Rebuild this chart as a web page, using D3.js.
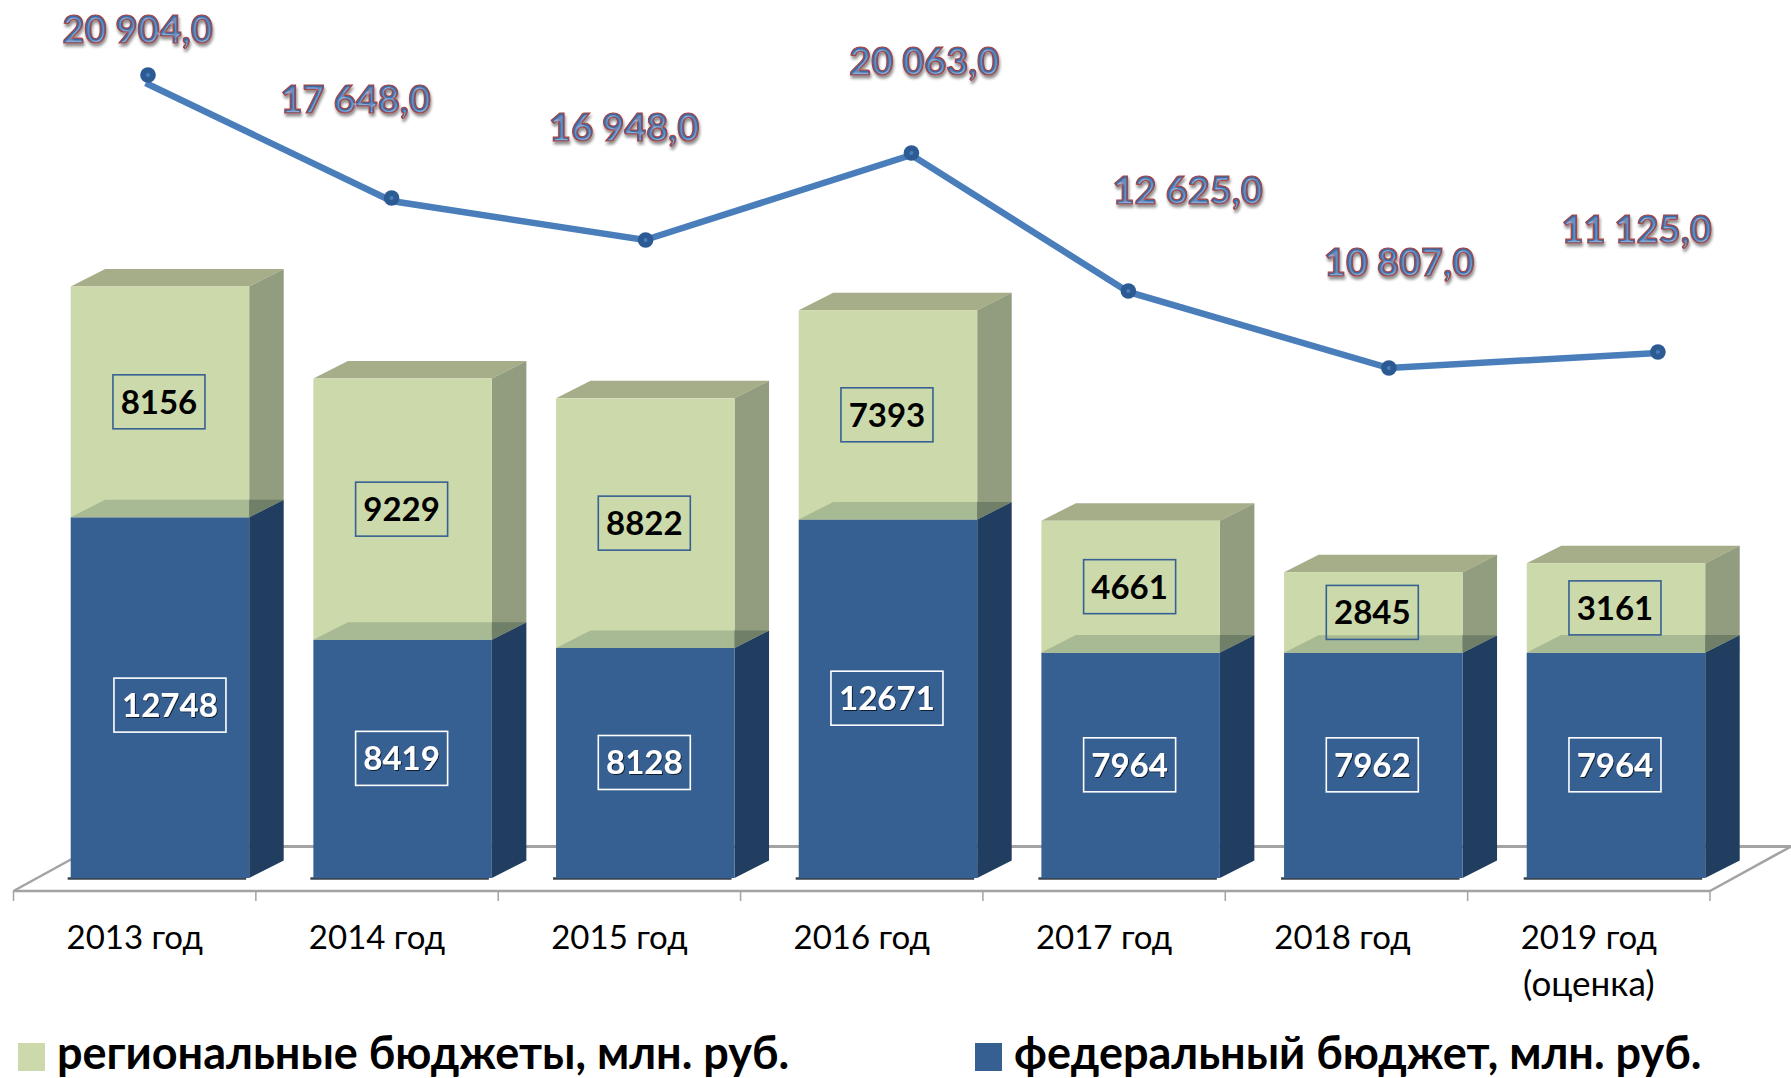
<!DOCTYPE html>
<html><head><meta charset="utf-8">
<script src="https://cdn.jsdelivr.net/npm/d3@7"></script>
<style>html,body{margin:0;background:#fff;overflow:hidden}svg{display:block}text{font-family:Lato,"Open Sans",sans-serif}</style>
</head><body><svg id="c" width="1791" height="1078"></svg>
<script>
const categories=["2013 год","2014 год","2015 год","2016 год","2017 год","2018 год","2019 год"];
const federal=[12748,8419,8128,12671,7964,7962,7964];
const regional=[8156,9229,8822,7393,4661,2845,3161];
const totalLabels=["20 904,0","17 648,0","16 948,0","20 063,0","12 625,0","10 807,0","11 125,0"];
const lineLevels=[28092,23922,22544,25548,20707,18021,18551];
const markerLevels=[28375,24028,22544,25618,20742,18021,18587];
const lineSlots=[0.045,1.06,2.105,3.205,4.1,5.175,6.285];
const markerSlots=[0.055,1.06,2.108,3.205,4.1,5.175,6.285];
const labelSlots=[0.012,0.912,2.02,3.258,4.345,5.217,6.197];
const labelLevels=[29505,27032,26042,28375,23816,21272,22438];
const seriesNames=["региональные бюджеты, млн. руб.","федеральный бюджет, млн. руб."];

const svg=d3.select("#c");
const defs=svg.append("defs");
const f=defs.append("filter").attr("id","bevel").attr("x","-10%").attr("y","-20%").attr("width","120%").attr("height","150%");
f.append("feGaussianBlur").attr("in","SourceAlpha").attr("stdDeviation",1.6).attr("result","sb");
f.append("feOffset").attr("in","sb").attr("dx",1).attr("dy",3).attr("result","so");
f.append("feComponentTransfer").attr("in","so").attr("result","sh").append("feFuncA").attr("type","linear").attr("slope",.45);
f.append("feGaussianBlur").attr("in","SourceAlpha").attr("stdDeviation",.9).attr("result","b");
const sp=f.append("feSpecularLighting").attr("in","b").attr("surfaceScale",2.5).attr("specularConstant",.55).attr("specularExponent",16).attr("lighting-color","#bcdcff").attr("result","s");
sp.append("feDistantLight").attr("azimuth",70).attr("elevation",50);
f.append("feComposite").attr("in","s").attr("in2","SourceGraphic").attr("operator","in").attr("result","s2");
const mg=f.append("feMerge");
mg.append("feMergeNode").attr("in","sh");
mg.append("feMergeNode").attr("in","SourceGraphic");
mg.append("feMergeNode").attr("in","s2");
const f2=defs.append("filter").attr("id","sh2").attr("x","-20%").attr("y","-20%").attr("width","140%").attr("height","140%");
f2.append("feDropShadow").attr("dx",1).attr("dy",1).attr("stdDeviation",.7).attr("flood-color","#000").attr("flood-opacity",.7);

const floorL=13.5,floorR=1710,floorY=891,backY=846.5,dxD=81;
const band=d3.scaleBand().domain(categories).range([floorL,floorR]).padding(0);
const barBand=d3.scaleBand().domain(categories).range([70.7,70.7+7*242.67]).padding(0);
const y=d3.scaleLinear().domain([0,10000]).range([878,595]);
const slot=d3.scaleLinear().domain([0,6]).range([band(categories[0])+band.bandwidth()/2,band(categories[6])+band.bandwidth()/2]);
const barW=178.5,dx=34.5,dy=17.5;

// floor
const grey="#a3a3a3";
const g=svg.append("g").attr("fill","none").attr("stroke",grey);
g.append("path").attr("stroke-width",3).attr("d",`M${floorL+dxD},${backY}H1791`);
g.append("path").attr("stroke-width",2.5).attr("d",`M${floorL},${floorY}L${floorL+dxD},${backY}`);
g.append("path").attr("stroke-width",2.5).attr("d",`M${floorR},${floorY}L1791,${backY}`);
g.append("path").attr("stroke-width",2.5).attr("d",`M${floorL},${floorY}H${floorR}`);
const ticks=band.domain().map(c=>band(c)).concat(floorR);
g.selectAll("line").data(ticks).join("line").attr("x1",d=>d).attr("x2",d=>d).attr("y1",floorY).attr("y2",901).attr("stroke-width",1.5);

function box(p,x,y0,y1,cols){
  p.append("path").attr("fill",cols.top).attr("d",`M${x},${y1}l${dx},${-dy}h${barW}l${-dx},${dy}z`);
  p.append("path").attr("fill",cols.side).attr("d",`M${x+barW},${y0}l${dx},${-dy}V${y1-dy}l${-dx},${dy}z`);
  p.append("rect").attr("x",x).attr("y",y1).attr("width",barW).attr("height",y0-y1).attr("fill",cols.front);
}
const blue={front:"#376092",side:"#213e60",top:"#2c4f7a"};
const green={front:"#ccdaab",side:"#929c7e",top:"#a5ad89"};

const bars=svg.append("g").selectAll("g").data(categories).join("g");
bars.each(function(c,i){
  const p=d3.select(this),x=barBand(c);
  const yb=y(0),ym=y(federal[i]),yt=y(federal[i]+regional[i]);
  p.append("path").attr("stroke","#3a4652").attr("stroke-width",2.5).attr("fill","none").attr("d",`M${x-3},${yb+.5}H${x+barW-3}`);
  box(p,x,yb,ym,blue);
  box(p,x,ym,yt,green);
  // the seam seen through the green block
  p.append("path").attr("fill","#a7ba94").attr("d",`M${x},${ym}L${x+dx},${ym-dy}H${x+barW}V${ym}z`);
  p.append("path").attr("fill","#6f7f68").attr("d",`M${x+barW},${ym}L${x+barW+dx},${ym-dy}H${x+barW}z`);
});

// value labels
const drawLabel=(p,cx,cy,txt,stroke,fill,shadow)=>{
  const bw=txt.length>4?112:92;
  p.append("rect").attr("x",cx-bw/2).attr("y",cy-27).attr("width",bw).attr("height",54).attr("fill","none").attr("stroke",stroke).attr("stroke-width",1.6);
  const t=p.append("text").attr("x",cx).attr("y",cy+12).attr("text-anchor","middle").attr("font-size",33).attr("font-weight",700).attr("fill",fill).text(txt);
  if(shadow)t.attr("filter","url(#sh2)");
};
bars.each(function(c,i){
  const p=d3.select(this),x=barBand(c);
  const ym=y(federal[i]),yt=y(federal[i]+regional[i]);
  drawLabel(p,x+barW/2-1+(i===0?11:0),(y(0)+ym)/2-.5+(i===0?8:0),String(federal[i]),"#fff","#fff",true);
  drawLabel(p,x+barW/2-1,(ym+yt)/2,String(regional[i]),"#376092","#000",false);
});

// line
svg.append("path").datum(d3.range(7)).attr("fill","none").attr("stroke","#4a7ebb").attr("stroke-width",6.5)
 .attr("d",d3.line().x(i=>slot(lineSlots[i])).y(i=>y(lineLevels[i])));
const m=svg.append("g").selectAll("g").data(d3.range(7)).join("g");
m.append("circle").attr("cx",i=>slot(markerSlots[i])).attr("cy",i=>y(markerLevels[i])).attr("r",7.8).attr("fill","#2c5a92");
m.append("circle").attr("cx",i=>slot(markerSlots[i])).attr("cy",i=>y(markerLevels[i])).attr("r",2).attr("fill","#4a7ebb");

// word-art labels
svg.append("g").selectAll("text").data(totalLabels).join("text")
 .attr("x",(d,i)=>slot(labelSlots[i])).attr("y",(d,i)=>y(labelLevels[i]))
 .attr("text-anchor","middle").attr("font-size",38).attr("font-weight",900)
 .attr("fill","#3a6ca8").attr("stroke","#a8423f").attr("stroke-width",1.2).attr("filter","url(#bevel)").text(d=>d);

// axis labels
const ax=svg.append("g").attr("font-size",33).attr("fill","#000");
const labelDx=[0,0,0,0,0,-4,0];
ax.selectAll("text").data(categories).join("text").attr("x",(c,i)=>band(c)+band.bandwidth()/2+labelDx[i]).attr("y",949).attr("text-anchor","middle").text(c=>c);
ax.append("text").attr("x",band(categories[6])+band.bandwidth()/2).attr("y",996).attr("font-size",35).attr("text-anchor","middle").text("(оценка)");

// legend
const lg=svg.append("g");
const lx=[18,975],lc=["#ccdaab","#376092"];
lg.selectAll("rect").data(lx).join("rect").attr("x",d=>d).attr("y",1043).attr("width",27).attr("height",28).attr("fill",(d,i)=>lc[i]);
lg.selectAll("text").data(seriesNames).join("text").attr("x",(d,i)=>lx[i]+39).attr("y",1069).attr("font-size",45).attr("font-weight",700).attr("fill","#000").text(d=>d);
</script></body></html>
